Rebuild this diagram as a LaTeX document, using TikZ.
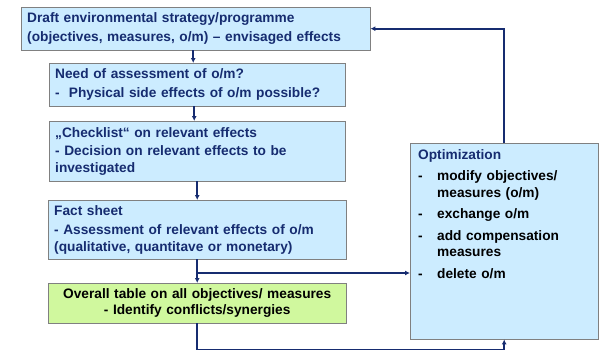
\documentclass[tikz,border=0pt]{standalone}
\usepackage{fontspec}
\setmainfont{Liberation Sans}
\usetikzlibrary{arrows.meta}
\definecolor{boxblue}{RGB}{204,236,255}
\definecolor{boxgreen}{RGB}{208,248,158}
\definecolor{navy}{RGB}{22,44,112}
\newcommand\optitem[1]{\makebox[19pt][l]{-}#1}
\def\ind{\hspace*{19pt}}

\begin{document}
\begin{tikzpicture}[x=1pt, y=-1pt,
    every node/.style={font=\fontsize{13.7}{16.5}\selectfont\bfseries},
    box/.style={draw=gray, fill=boxblue, text=navy, anchor=north west, align=left, inner xsep=6pt, inner ysep=0pt},
    arr/.style={draw=navy, line width=1.7pt, -{Latex[length=5pt,width=5pt]}}]
  \useasboundingbox (0,0) rectangle (602,351);

  \node[box, text width=337pt, minimum height=43pt] (draft) at (21,7)
    {Draft environmental strategy/programme\\[2pt] (objectives, measures, o/m) -- envisaged effects};
  \node[box, text width=284pt, minimum height=43pt] (need) at (49,63)
    {Need of assessment of o/m?\\[2pt] -~ Physical side effects of o/m possible?};
  \node[box, text width=284pt, minimum height=60pt] (check) at (49,121)
    {„Checklist“ on relevant effects\\[2pt] - Decision on relevant effects to be\\ investigated};
  \node[box, text width=286pt, minimum height=59pt] (fact) at (48,200)
    {Fact sheet\\[3pt] - Assessment of relevant effects of o/m\\ (qualitative, quantitave or monetary)};
  \node[box, fill=boxgreen, text=black, align=center, text width=286pt, minimum height=40pt] (table) at (48,283)
    {Overall table on all objectives/ measures\\ - Identify conflicts/synergies};
  \node[box, text=black, inner xsep=8pt, inner ysep=6pt, text width=172pt, text height=10pt, text depth=174pt] (opt) at (410,143)
    {\textcolor{navy}{Optimization}\\[5pt]
     \optitem{modify objectives/}\\ \ind measures (o/m)\\[5pt]
     \optitem{exchange o/m}\\[5pt]
     \optitem{add compensation}\\ \ind measures\\[5pt]
     \optitem{delete o/m}};

  \coordinate (split) at (198,273);
  \draw[arr] ([xshift=-4pt]need.north |- draft.south) -- ([xshift=-4pt]need.north);
  \draw[arr] ([xshift=-3pt]need.north |- need.south) -- ([xshift=-3pt]check.north);
  \draw[arr] (check.south -| fact.north) -- (fact.north);
  \draw[arr] (fact.south) -- (table.north);
  \draw[arr] (split) -- (opt.west |- split);
  \draw[arr] (table.south) -- ++(0,26) -| (opt.south);
  \draw[arr] (opt.north) |- (draft.east);
\end{tikzpicture}
\end{document}
